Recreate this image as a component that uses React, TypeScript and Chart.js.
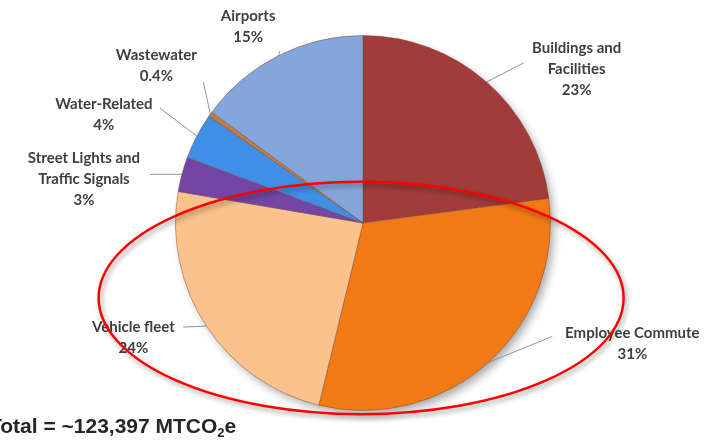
import React, { useEffect, useRef } from "react";
import { Chart, registerables } from "chart.js";

Chart.register(...registerables);

const categories = [
  "Buildings and Facilities",
  "Employee Commute",
  "Vehicle fleet",
  "Street Lights and Traffic Signals",
  "Water-Related",
  "Wastewater",
  "Airports",
];
const shares = [23, 31, 24, 3, 4, 0.4, 15];
const labelLines = [
  ["Buildings and", "Facilities", "23%"],
  ["Employee Commute", "31%"],
  ["Vehicle fleet", "24%"],
  ["Street Lights and", "Traffic Signals", "3%"],
  ["Water-Related", "4%"],
  ["Wastewater", "0.4%"],
  ["Airports", "15%"],
];
const sliceColors = ["#A03C3A", "#F17A16", "#FBC28D", "#7245A6", "#3F8FE6", "#C47A40", "#84A6DB"];
const totalText = "Total = ~123,397 MTCO";

// label layout relative to each slice's outer mid point: [leaderDx, leaderDy, textDx, textDy]
const labelLayout = [
  [37, -19, 90, -34],
  [64, -26, 144, -29],
  [-23, 1, -73, 1],
  [-32, 0, -98, -16],
  [-37, -28, -93, -32],
  [-7, -32, -54, -59],
  [2, -5, -30, -40],
];

const overlayPlugin = {
  id: "overlay",
  beforeDatasetsDraw(chart: any) {
    const meta = chart.getDatasetMeta(0);
    const arc = meta.data[0];
    if (!arc) return;
    const { x, y, outerRadius } = arc.getProps(["x", "y", "outerRadius"], true);
    const ctx = chart.ctx;
    ctx.save();
    ctx.shadowColor = "rgba(0,0,0,0.35)";
    ctx.shadowBlur = 10;
    ctx.shadowOffsetX = 4;
    ctx.shadowOffsetY = 5;
    ctx.fillStyle = "#ffffff";
    ctx.beginPath();
    ctx.arc(x, y, outerRadius - 1, 0, Math.PI * 2);
    ctx.fill();
    ctx.restore();
  },
  afterDatasetsDraw(chart: any) {
    const meta = chart.getDatasetMeta(0);
    const ctx = chart.ctx;
    let cx = 0, cy = 0, rr = 0;
    meta.data.forEach((el: any, i: number) => {
      const p = el.getProps(["x", "y", "startAngle", "endAngle", "outerRadius"], true);
      cx = p.x; cy = p.y; rr = p.outerRadius;
      const mid = (p.startAngle + p.endAngle) / 2;
      const ex = p.x + Math.cos(mid) * p.outerRadius;
      const ey = p.y + Math.sin(mid) * p.outerRadius;
      const [ldx, ldy, tdx, tdy] = labelLayout[i];
      ctx.save();
      ctx.strokeStyle = "#8796A4";
      ctx.lineWidth = 1;
      ctx.beginPath();
      ctx.moveTo(ex, ey);
      ctx.lineTo(ex + ldx, ey + ldy);
      ctx.stroke();
      ctx.fillStyle = "#404040";
      ctx.font = "bold 15px Lato";
      ctx.textAlign = "center";
      ctx.textBaseline = "middle";
      labelLines[i].forEach((line, j) => {
        ctx.fillText(line, ex + tdx, ey + tdy + j * 21);
      });
      ctx.restore();
    });
    // red highlight ellipse
    ctx.save();
    ctx.shadowColor = "rgba(0,0,0,0.4)";
    ctx.shadowBlur = 5;
    ctx.shadowOffsetX = 2;
    ctx.shadowOffsetY = 3;
    ctx.strokeStyle = "#FF0000";
    ctx.lineWidth = 2.5;
    ctx.beginPath();
    ctx.ellipse(cx - 0.01 * rr, cy + 0.4 * rr, 1.4 * rr, 0.62 * rr, 0, 0, Math.PI * 2);
    ctx.stroke();
    ctx.restore();
    // total text
    ctx.save();
    ctx.fillStyle = "#262626";
    ctx.font = "bold 21px 'Liberation Sans'";
    ctx.textBaseline = "alphabetic";
    ctx.textAlign = "left";
    const tx = -11, ty = 433;
    ctx.fillText(totalText, tx, ty);
    const w = ctx.measureText(totalText).width;
    ctx.font = "bold 13px 'Liberation Sans'";
    ctx.fillText("2", tx + w, ty + 4);
    const w2 = ctx.measureText("2").width;
    ctx.font = "bold 21px 'Liberation Sans'";
    ctx.fillText("e", tx + w + w2, ty);
    ctx.restore();
  },
};

export default function App() {
  const ref = useRef<HTMLCanvasElement | null>(null);
  useEffect(() => {
    document.body.style.margin = "0";
    if (!ref.current) return;
    const chart = new Chart(ref.current, {
      type: "pie",
      data: {
        labels: categories,
        datasets: [
          {
            data: shares,
            backgroundColor: sliceColors,
            borderColor: "rgba(110,70,50,0.45)",
            borderWidth: 1,
          },
        ],
      },
      options: {
        animation: false,
        responsive: true,
        maintainAspectRatio: false,
        layout: { padding: { left: 174, right: 162, top: 35, bottom: 31 } },
        plugins: { legend: { display: false }, tooltip: { enabled: false } },
      },
      plugins: [overlayPlugin],
    });
    return () => chart.destroy();
  }, []);
  return (
    <div style={{ width: 714, height: 442, position: "relative" }}>
      <canvas ref={ref} />
    </div>
  );
}
